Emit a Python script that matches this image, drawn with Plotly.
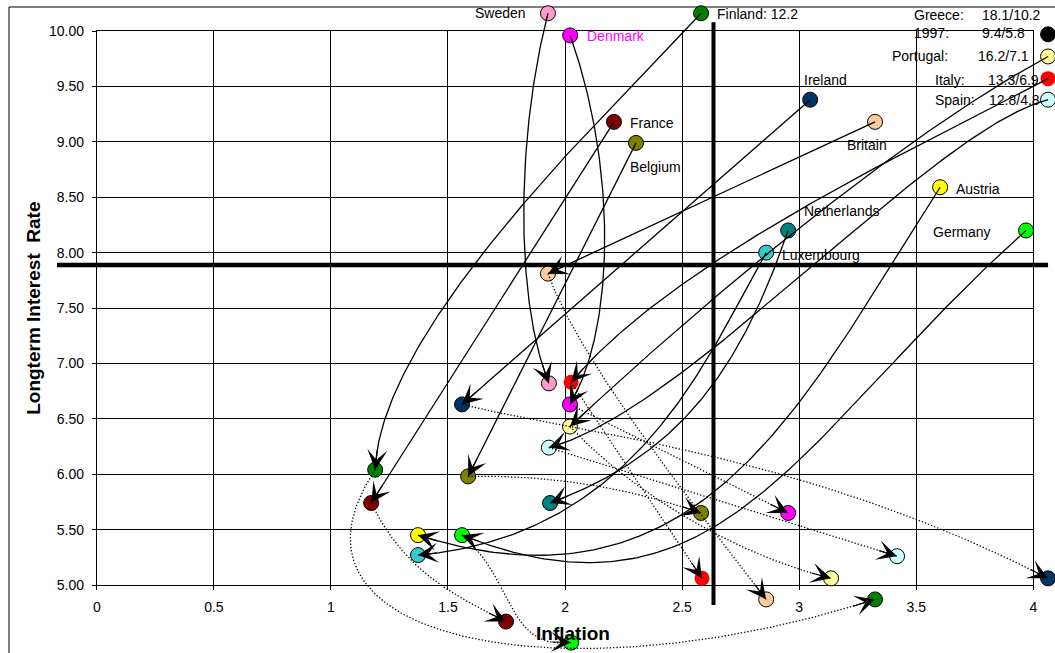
import numpy as np
import plotly.graph_objects as go

# ---------------- layout constants (pixels) ----------------
W, H = 1055, 653
PLOT_LEFT, PLOT_RIGHT, PLOT_TOP, PLOT_BOTTOM = 96.8, 1033.3, 31.0, 585.0
X_RANGE = (0.0, 4.0)
Y_RANGE = (5.0, 10.0)
FONT = "Liberation Sans, Arial, sans-serif"

# ---------------- data ----------------
countries = ["Sweden", "Denmark", "Finland", "France", "Belgium", "Ireland", "Britain",
             "Austria", "Netherlands", "Luxembourg", "Germany", "Greece", "Portugal",
             "Italy", "Spain"]
marker_colors = ["#FF99CC", "#FF00FF", "#008000", "#800000", "#808000", "#003366", "#FFCC99",
                 "#FFFF00", "#008080", "#33CCCC", "#00FF00", "#000000", "#FFFF99",
                 "#FF0000", "#CCFFFF"]

# first position (inflation, long-term interest rate)
start_inflation = [1.927, 2.022, 2.581, 2.209, 2.303, 3.047, 3.324, 3.602, 2.953, 2.859, 3.969,
                   4.063, 4.063, 4.063, 4.063]
start_rate = [10.16, 9.96, 10.16, 9.18, 8.99, 9.38, 9.18, 8.59, 8.20, 8.00, 8.20,
              9.97, 9.77, 9.57, 9.38]
# second position
mid_inflation = [1.931, 2.021, 1.189, 1.172, 1.586, 1.560, 1.927, 1.372, 1.936, 1.372, 1.560,
                 None, 2.021, 2.026, 1.931]
mid_rate = [6.82, 6.63, 6.04, 5.74, 5.98, 6.63, 7.81, 5.45, 5.74, 5.27, 5.45,
            None, 6.43, 6.83, 6.24]
# third position
end_inflation = [None, 2.953, 3.324, 1.748, 2.581, 4.063, 2.859, None, None, None, 2.026,
                 None, 3.136, 2.585, 3.418]
end_rate = [None, 5.65, 4.87, 4.67, 5.65, 5.06, 4.87, None, None, None, 4.48,
            None, 5.06, 5.06, 5.26]

x_tick_values = [0, 0.5, 1, 1.5, 2, 2.5, 3, 3.5, 4]
x_tick_labels = ["0", "0.5", "1", "1.5", "2", "2.5", "3", "3.5", "4"]
y_tick_values = [5.0, 5.5, 6.0, 6.5, 7.0, 7.5, 8.0, 8.5, 9.0, 9.5, 10.0]
y_tick_labels = ["5.00", "5.50", "6.00", "6.50", "7.00", "7.50", "8.00", "8.50", "9.00",
                 "9.50", "10.00"]

inflation_criterion = 2.634
rate_criterion = 7.888
criterion_line_x_span = [-0.17, 4.063]
criterion_line_y_span = [4.82, 10.08]

side_notes = [  # (country, text, xshift, yshift)
    ("Greece", "Greece:", -136, 19), ("Greece", "18.1/10.2", -68, 19),
    ("Greece", "1997:", -136, 1.5), ("Greece", "9.4/5.8", -68, 1.5),
    ("Portugal", "Portugal:", -158, 0), ("Portugal", "16.2/7.1", -72, 0),
    ("Italy", "Italy:", -115, -1), ("Italy", "13.3/6.9", -62, -1),
    ("Spain", "Spain:", -115, -0.5), ("Spain", "12.8/4.8", -61, -0.5),
]

# ---------------- styles ----------------
point_labels = {  # text, anchor, xshift, yshift, colour
    "Sweden": ("Sweden", "right", -20, 0, "#000000"),
    "Denmark": ("Denmark", "left", 15, -1, "#FF00FF"),
    "Finland": ("Finland: 12.2", "left", 14, -1, "#000000"),
    "France": ("France", "left", 14, -1, "#000000"),
    "Belgium": ("Belgium", "left", -8, -24, "#000000"),
    "Ireland": ("Ireland", "left", -8, 19.5, "#000000"),
    "Britain": ("Britain", "left", -30, -23, "#000000"),
    "Austria": ("Austria", "left", 14, -2, "#000000"),
    "Netherlands": ("Netherlands", "left", 14, 19.5, "#000000"),
    "Luxembourg": ("Luxembourg", "left", 14, -2.5, "#000000"),
    "Germany": ("Germany", "right", -33, -2, "#000000"),
}
STRAIGHT = (1 / 3, 0.0, 2 / 3, 0.0)
solid_bend = {
    "Sweden": (0.344, -0.089, 0.78, -0.089),
    "Denmark": (0.366, 0.13, 0.80, 0.12),
    "Finland": (0.26, -0.036, 0.793, -0.137),
    "France": STRAIGHT, "Belgium": STRAIGHT, "Ireland": STRAIGHT, "Britain": STRAIGHT,
    "Netherlands": (0.378, 0.154, 0.664, 0.183),
    "Luxembourg": (0.244, 0.0855, 0.613, 0.281),
    "Austria": (0.365, 0.159, 0.702, 0.371),
    "Germany": (0.455, 0.108, 0.72, 0.335),
    "Portugal": (0.279, -0.046, 0.72, -0.027),
    "Italy": (0.316, -0.030, 0.748, -0.080),
    "Spain": (0.187, -0.070, 0.774, 0.081),
}
dotted_bend = {
    "Britain": (0.246, -0.062, 0.797, -0.012),
    "Ireland": (0.166, 0.005, 0.551, 0.085),
    "Denmark": STRAIGHT,
    "Portugal": (0.233, -0.071, 0.636, -0.105),
    "Spain": STRAIGHT, "Italy": STRAIGHT,
    "Belgium": (1 / 3, 0.06, 2 / 3, 0.06),
    "France": (0.361, -0.149, 0.623, -0.102),
    "Germany": (0.454, 0.037, 0.726, -0.332),
    "Finland": (-0.131, -0.376, 0.4595, -0.3416),
}

# ---------------- derived geometry ----------------
SX = (PLOT_RIGHT - PLOT_LEFT) / (X_RANGE[1] - X_RANGE[0])
SY = (PLOT_BOTTOM - PLOT_TOP) / (Y_RANGE[1] - Y_RANGE[0])
overlay_x = [X_RANGE[0] - PLOT_LEFT / SX, X_RANGE[0] + (W - PLOT_LEFT) / SX]
overlay_y = [Y_RANGE[0] - (H - PLOT_BOTTOM) / SY, Y_RANGE[0] + PLOT_BOTTOM / SY]


def curve(p0, p3, bend, n=160):
    a = np.array([p0[0] * SX, p0[1] * SY])
    b = np.array([p3[0] * SX, p3[1] * SY])
    d = b - a
    nrm = np.array([-d[1], d[0]])
    u1, v1, u2, v2 = bend
    c1 = a + u1 * d + v1 * nrm
    c2 = a + u2 * d + v2 * nrm
    t = np.linspace(0, 1, n)[:, None]
    pts = (1 - t) ** 3 * a + 3 * (1 - t) ** 2 * t * c1 + 3 * (1 - t) * t ** 2 * c2 + t ** 3 * b
    dist = np.hypot(pts[:, 0] - b[0], pts[:, 1] - b[1])
    tail = np.where(dist >= 20)[0][-1]
    return pts[:, 0] / SX, pts[:, 1] / SY, (pts[tail, 0] / SX, pts[tail, 1] / SY)


fig = go.Figure()
annotations = []

# markers
for i, c in enumerate(countries):
    xs = [v for v in (start_inflation[i], mid_inflation[i], end_inflation[i]) if v is not None]
    ys = [v for v in (start_rate[i], mid_rate[i], end_rate[i]) if v is not None]
    fig.add_trace(go.Scatter(
        x=xs, y=ys, mode="markers", xaxis="x2", yaxis="y2", name=c, showlegend=False,
        marker=dict(size=15, color=marker_colors[i],
                    line=dict(color="#000000", width=0 if c == "Italy" else 1)),
        hoverinfo="name"))


# arrows
def add_arrow(p0, p3, bend, dash):
    cx, cy, tail = curve(p0, p3, bend)
    fig.add_trace(go.Scatter(x=cx, y=cy, mode="lines", xaxis="x2", yaxis="y2",
                             showlegend=False, hoverinfo="skip",
                             line=dict(color="#000000", width=1.3, dash=dash)))
    annotations.append(dict(x=p3[0], y=p3[1], ax=tail[0], ay=tail[1], xref="x2", yref="y2",
                            axref="x2", ayref="y2", text="", showarrow=True, arrowhead=3,
                            arrowsize=2.8, arrowwidth=1.2, arrowcolor="#000000", standoff=0))


for i, c in enumerate(countries):
    if c in solid_bend and mid_inflation[i] is not None:
        add_arrow((start_inflation[i], start_rate[i]), (mid_inflation[i], mid_rate[i]),
                  solid_bend[c], "solid")
for i, c in enumerate(countries):
    if c in dotted_bend and end_inflation[i] is not None:
        add_arrow((mid_inflation[i], mid_rate[i]), (end_inflation[i], end_rate[i]),
                  dotted_bend[c], "1.3px,2px")

# point labels
for i, c in enumerate(countries):
    if c in point_labels:
        txt, anchor, xs_, ys_, col = point_labels[c]
        annotations.append(dict(x=start_inflation[i], y=start_rate[i], xref="x2", yref="y2",
                                text=txt, showarrow=False, xanchor=anchor, yanchor="middle",
                                xshift=xs_, yshift=ys_,
                                font=dict(family=FONT, size=14, color=col)))
for c, txt, xs_, ys_ in side_notes:
    i = countries.index(c)
    annotations.append(dict(x=start_inflation[i], y=start_rate[i], xref="x2", yref="y2",
                            text=txt, showarrow=False, xanchor="left", yanchor="middle",
                            xshift=xs_, yshift=ys_,
                            font=dict(family=FONT, size=14, color="#000000")))

# axis titles
annotations.append(dict(x=X_RANGE[0], y=(Y_RANGE[0] + Y_RANGE[1]) / 2, xref="x", yref="y",
                        text="Longterm Interest\u00a0 Rate", textangle=-90, showarrow=False,
                        xanchor="center", yanchor="middle", xshift=-64,
                        font=dict(family=FONT, size=19, color="#000000", weight="bold")))
annotations.append(dict(x=(X_RANGE[0] + X_RANGE[1]) / 2, y=Y_RANGE[0], xref="x", yref="y",
                        text="Inflation", showarrow=False, xanchor="center", yanchor="middle",
                        xshift=8, yshift=-48,
                        font=dict(family=FONT, size=19, color="#000000", weight="bold")))

shapes = [
    dict(type="rect", xref="paper", yref="paper", x0=9 / W, x1=1.02, y0=-0.02, y1=1 - 7 / H,
         line=dict(color="#000000", width=1), layer="below"),
    dict(type="line", xref="x2", yref="y2", x0=criterion_line_x_span[0],
         x1=criterion_line_x_span[1], y0=rate_criterion, y1=rate_criterion,
         line=dict(color="#000000", width=4.5), layer="below"),
    dict(type="line", xref="x2", yref="y2", x0=inflation_criterion, x1=inflation_criterion,
         y0=criterion_line_y_span[0], y1=criterion_line_y_span[1],
         line=dict(color="#000000", width=4), layer="below"),
]

axis_common = dict(showgrid=True, gridcolor="#000000", gridwidth=1, showline=True,
                   mirror=True, linecolor="#000000", linewidth=1, ticks="outside", ticklen=4,
                   tickcolor="#000000", zeroline=False, fixedrange=True, automargin=False,
                   tickfont=dict(family=FONT, size=14, color="#000000"))

fig.update_layout(
    width=W, height=H, autosize=False,
    margin=dict(l=0, r=0, t=0, b=0, pad=0, autoexpand=False),
    paper_bgcolor="#FFFFFF", plot_bgcolor="rgba(0,0,0,0)",
    showlegend=False,
    xaxis=dict(domain=[PLOT_LEFT / W, PLOT_RIGHT / W], range=list(X_RANGE),
               tickvals=x_tick_values, ticktext=x_tick_labels, anchor="y",
               ticklabelstandoff=5, **axis_common),
    yaxis=dict(domain=[(H - PLOT_BOTTOM) / H, (H - PLOT_TOP) / H], range=list(Y_RANGE),
               tickvals=y_tick_values, ticktext=y_tick_labels, anchor="x",
               ticklabelstandoff=5, **axis_common),
    xaxis2=dict(domain=[0, 1], range=overlay_x, visible=False, anchor="y2", fixedrange=True,
                automargin=False),
    yaxis2=dict(domain=[0, 1], range=overlay_y, visible=False, anchor="x2", fixedrange=True,
                automargin=False),
    shapes=shapes,
    annotations=annotations,
)

fig.write_html(
    "out.html",
    config={"displayModeBar": False, "responsive": False},
    post_script="document.body.style.margin='0';",
)
